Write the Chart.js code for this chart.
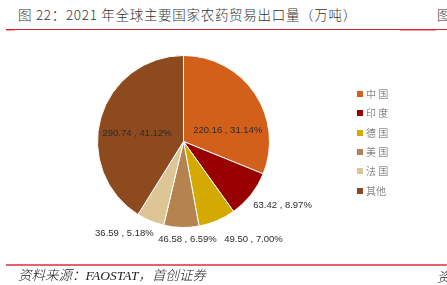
<!DOCTYPE html>
<html>
<head>
<meta charset="utf-8">
<script src="https://cdn.jsdelivr.net/npm/chart.js@4.4.1/dist/chart.umd.min.js"></script>
<style>
  html, body { margin:0; padding:0; background:#fff; }
  body { width:447px; height:285px; position:relative; overflow:hidden; font-family:"Noto Sans CJK SC", sans-serif; }
  #c { position:absolute; left:0; top:0; }
  .title { position:absolute; left:18px; top:5px; font-size:13.5px; color:#333; white-space:nowrap; line-height:18px; font-weight:300; letter-spacing:0.7px; }
  .title2 { position:absolute; left:437px; top:5px; font-size:13.5px; color:#333; white-space:nowrap; line-height:18px; font-weight:300; }
  .topline { position:absolute; left:6px; top:29px; width:441px; height:1px; background:#D7262D; }
  .pink1 { position:absolute; left:6px; top:30px; width:9px; height:1px; background:#F2A0A5; }
  .pink2 { position:absolute; left:400px; top:30px; width:36px; height:1px; background:#F2A0A5; }
  .botline { position:absolute; left:6px; top:264px; width:441px; height:2px; background:#E8616A; }
  .source { position:absolute; left:18px; top:267px; font-size:13.5px; color:#222; font-style:italic; white-space:nowrap; line-height:18px; font-weight:300; font-family:"Liberation Serif","Noto Sans CJK SC",serif; }
  .source2 { position:absolute; left:437px; top:267px; font-size:13.5px; color:#222; font-style:italic; white-space:nowrap; line-height:18px; font-weight:300; }
  #legend { position:absolute; left:357px; top:84px; }
  .li { position:absolute; left:0; height:19px; white-space:nowrap; font-size:10px; color:#555; line-height:19px; font-weight:300; }
  .sw { position:absolute; left:0; top:7px; width:6px; height:6px; }
  .lt { position:absolute; left:9px; top:0; }
</style>
</head>
<body>
<div class="title">图 22：2021 年全球主要国家农药贸易出口量（万吨）</div>
<div class="title2">图</div>
<div class="topline"></div><div class="pink1"></div><div class="pink2"></div>
<canvas id="c" width="447" height="285"></canvas>
<div id="legend"></div>
<div class="botline"></div>
<div class="source">资料来源：FAOSTAT，首创证券</div>
<div class="source2">资</div>
<script>
const categories = ['中 国', '印 度', '德 国', '美 国', '法 国', '其他'];
const exportValues = [220.16, 63.42, 49.50, 46.58, 36.59, 290.74];
const sliceColors = ['#D3601A', '#990000', '#D4AA00', '#B5834D', '#DDC596', '#8C4A1E'];

// label placement (layout, not data): radius factor and pixel nudge
const labelPlacement = [
  {f:0.55, dx:5, dy:15},
  {f:1.0, dx:31.5, dy:10.3},
  {f:1.0, dx:36.4, dy:18.3},
  {f:1.0, dx:6.2, dy:11.5},
  {f:1.0, dx:-26, dy:12.1},
  {f:0.55, dx:-1, dy:4.5}
];

const total = exportValues.reduce((a, b) => a + b, 0);

const labelPlugin = {
  id: 'sliceLabels',
  afterDatasetsDraw(chart) {
    const ctx = chart.ctx;
    const meta = chart.getDatasetMeta(0);
    ctx.save();
    ctx.font = '9.5px "Liberation Sans", Arial, sans-serif';
    ctx.fillStyle = '#2b2b2b';
    ctx.textAlign = 'center';
    ctx.textBaseline = 'middle';
    meta.data.forEach((arc, i) => {
      const p = arc.getProps(['x', 'y', 'startAngle', 'endAngle', 'outerRadius'], true);
      const mid = (p.startAngle + p.endAngle) / 2;
      const pl = labelPlacement[i];
      const px = p.x + Math.cos(mid) * p.outerRadius * pl.f + pl.dx;
      const py = p.y + Math.sin(mid) * p.outerRadius * pl.f + pl.dy;
      const v = exportValues[i];
      const txt = v.toFixed(2) + ' , ' + (v / total * 100).toFixed(2) + '%';
      ctx.fillText(txt, px, py);
    });
    ctx.restore();
  }
};

new Chart(document.getElementById('c'), {
  type: 'pie',
  data: {
    labels: categories,
    datasets: [{
      data: exportValues,
      backgroundColor: sliceColors,
      borderColor: '#ffffff',
      borderWidth: 1
    }]
  },
  options: {
    responsive: false,
    animation: false,
    devicePixelRatio: 1,
    layout: { padding: { left: 97, right: 177, top: 55, bottom: 57 } },
    plugins: { legend: { display: false }, tooltip: { enabled: false } }
  },
  plugins: [labelPlugin]
});

const lg = document.getElementById('legend');
categories.forEach((name, i) => {
  const d = document.createElement('div');
  d.className = 'li';
  d.style.top = (i * 19.3) + 'px';
  d.innerHTML = '<span class="sw" style="background:' + sliceColors[i] + '"></span><span class="lt">' + name + '</span>';
  lg.appendChild(d);
});
</script>
</body>
</html>
